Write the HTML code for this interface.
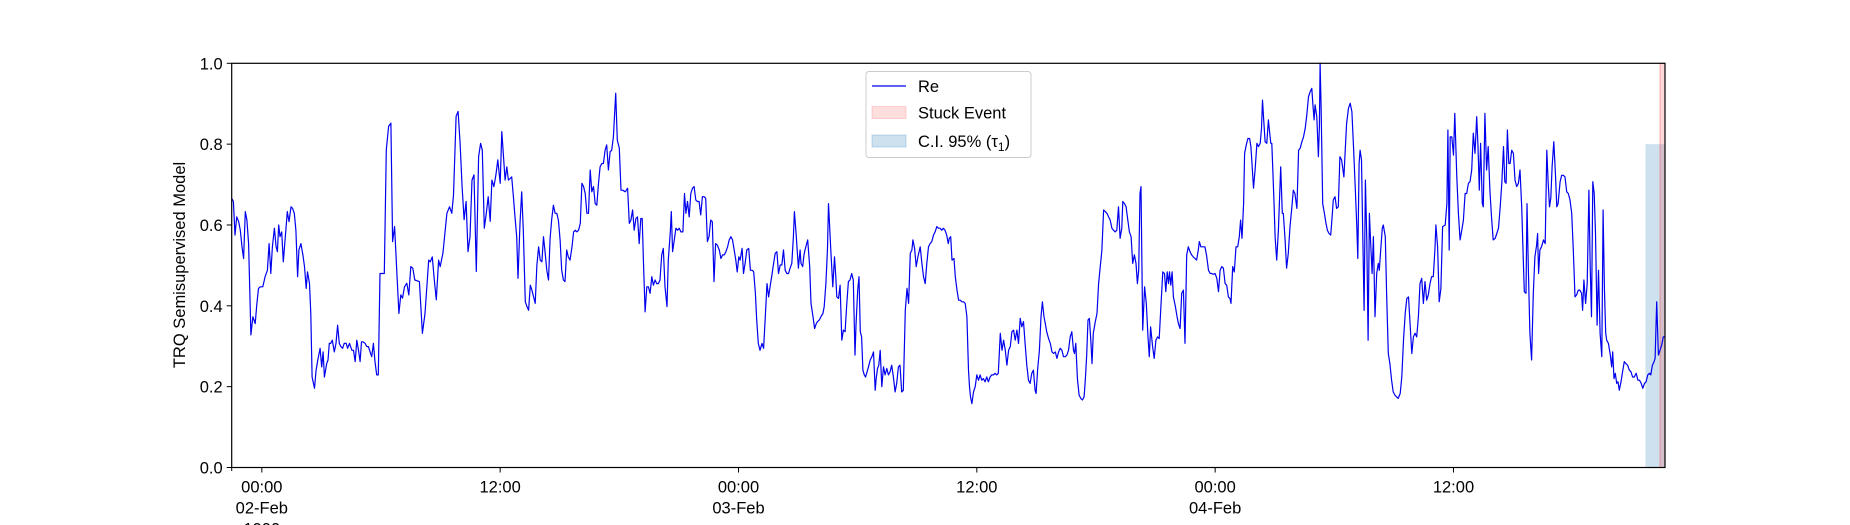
<!DOCTYPE html>
<html><head><meta charset="utf-8"><style>
html,body{margin:0;padding:0;background:#fff;}
svg{display:block;font-family:"Liberation Sans","DejaVu Sans",sans-serif;}
</style></head><body>
<svg id="chart" width="1850" height="525" viewBox="0 0 1850 525" xmlns="http://www.w3.org/2000/svg">
<rect x="0" y="0" width="1850" height="525" fill="#fff"/>
<g id="spans"></g>
<g id="series"></g>
<g id="axes"></g>
<text transform="translate(185,265) rotate(-90)" text-anchor="middle" font-size="16.5">TRQ Semisupervised Model</text>
<g>
<rect x="866" y="71.5" width="165" height="86" rx="3" fill="#fff" fill-opacity="0.8" stroke="#ccc" stroke-width="1"/>
<line x1="872" y1="86" x2="906" y2="86" stroke="#0000ee" stroke-width="1.2"/>
<text x="918" y="92" font-size="16.5">Re</text>
<rect x="872" y="106.5" width="34" height="12" fill="rgba(255,0,0,0.13)" stroke="rgba(255,0,0,0.15)"/>
<text x="918" y="118.5" font-size="16.5">Stuck Event</text>
<rect x="872" y="135" width="34" height="12" fill="rgba(31,119,180,0.22)" stroke="rgba(31,119,180,0.25)"/>
<text x="918" y="147" font-size="16.5">C.I. 95% (τ<tspan font-size="12" dy="4">1</tspan><tspan dy="-4">)</tspan></text>
</g>
</svg>
<script>
const times = [-91,-86,-81,-76,-70,-65,-60,-55,-50,-45,-40,-33,-27,-20,-15,-10,-5,3,10,17,22,27,32,38,43,47,51,55,60,65,72,77,82,88,93,98,103,108,112,118,124,129,134,138,144,148,152,159,164,169,176,181,185,189,196,200,204,208,213,219,224,229,234,239,244,249,255,259,265,272,277,282,287,292,297,301,305,312,317,322,327,332,337,342,347,352,
357,370,376,383,390,395,401,408,414,420,425,431,438,444,450,456,462,476,485,493,504,509,515,521,527,534,539,547,559,567,574,579,587,593,599,605,611,617,623,629,635,641,648,655,661,666,672,678,684,690,695,701,707,713,
720,725,730,735,740,745,750,755,760,765,770,774,780,785,790,796,801,806,811,816,821,826,831,836,841,846,851,856,861,866,871,876,881,886,891,896,901,906,911,916,921,926,931,937,942,947,952,957,962,967,972,977,982,987,992,997,1002,1007,1012,1017,1022,1027,1032,1037,1042,1047,1052,1057,1062,1069,1074,1080,1085,1090,1098,1105,1110,1115,1120,1125,1130,1135,1140,1145,1149,1153,1158,1163,1168,1173,1178,1183,1188,1193,1198,1203,1208,1213,1218,1224,1228,1234,1237,1241,1246,1251,1256,1261,1266,1272,1277,1281,1286,1291,1296,1301,1306,1311,1316,1321,1326,1331,1336,1341,1346,1351,1356,1361,1366,1371,1376,1382,1387,1392,1397,1402,1407,1412,1417,1422,1427,1432,1436,1441,1445,1451,1455,1460,1465,1471,1476,1482,1486,1491,1495,1500,1505,1511,1516,1521,1526,1531,1536,1541,1546,1551,1556,1561,1566,1571,1576,1581,1586,1591,1596,1601,1606,1609,1614,1618,1621,
1626,1629,1634,1638,1641,1646,1649,1655,1659,1665,1670,1675,1679,1684,1689,1695,1699,1704,1709,1712,1715,1719,1725,1730,1734,1737,1742,1747,1752,1757,1762,1767,1772,1777,1782,1787,1792,1795,1800,1804,1808,1812,1816,1820,1824,1830,1834,1838,1843,1848,1853,1856,1860,1864,1868,1873,1878,1883,1888,1893,1898,1903,1908,1913,1918,1923,1928,1933,1938,1944,1949,1954,1959,1964,1967,1972,1977,1982,1989,1994,1999,2004,2009,2014,2019,2024,2029,2034,2039,2044,2049,2054,2059,2064,2069,2074,2077,2081,2085,2091,2095,2100,2105,2110,2115,2120,2125,2130,2135,2138,2141,2145,2150,2155,2160,2165,2170,2175,2180,2185,2190,2195,2200,2205,2210,2215,2220,2225,2231,2236,2241,2246,2251,2256,2261,2266,2271,2276,2281,2286,2291,2296,2301,2306,2311,2316,2321,2326,2331,2336,2339,2344,2349,2354,2358,2363,2367,2371,2377,2382,2387,2392,2397,2402,2407,2412,2417,2422,2427,2432,2437,2442,2447,2452,2455,2459,2464,2469,2474,2479,2484,2488,2492,2496,2500,2505,2508,2512,2518,2523,2528,
2538,2543,2548,2553,2558,2563,2568,2573,2578,2583,2588,2593,2598,2601,2606,2611,2616,2621,2626,2631,2636,2641,2645,2649,2653,2656,2661,2667,2672,2677,2681,2685,2691,2696,2701,2706,2711,2716,2722,2727,2731,2735,2739,2742,2746,2750,2754,2760,2764,2769,2774,2779,2784,2789,2794,2799,2804,2809,2814,2819,2824,2829,2832,2837,2842,2849,2854,2860,2865,2870,2875,2880,2885,2890,2895,2900,2905,2910,2915,2920,2925,2928,2933,2938,2943,2948,2953,2957,2961,2966,2969,2974,2979,2984,2988,2992,2996,3001,3006,3011,3016,3020,3023,3026,3031,3036,3041,3044,3048,3051,3054,3058,3061,3066,3071,3078,3083,3086,3091,3096,3101,3106,3111,3116,3121,3127,3132,3137,3142,3147,3152,3157,3162,3167,3172,3175,3179,3182,3187,3192,3195,3197,3200,3205,3210,3215,3219,3224,3229,3233,3237,3242,3247,3252,3257,3262,3269,3272,3277,3283,3288,3293,3298,3303,3308,3311,3315,3318,3322,3326,3330,3334,3338,3342,3346,3350,3354,3358,3363,3368,3373,3376,3380,3385,3388,3394,3398,3403,3408,3413,3418,3423,3428,3433,3439,3444,3449,3454,3459,3464,
3474,3479,3484,3489,3494,3499,3504,3509,3514,3519,3524,3529,3534,3539,3544,3547,3552,3557,3562,3567,3575,3580,3583,3587,3590,3595,3600,3604,3610,3615,3620,3625,3630,3635,3640,3645,3650,3655,3660,3665,3670,3674,3678,3682,3687,3690,3695,3700,3705,3710,3715,3720,3726,3731,3736,3741,3746,3751,3755,3759,3763,3767,3771,3776,3781,3786,3791,3796,3801,3806,3811,3814,3819,3822,3826,3831,3836,3841,3846,3851,3854,3857,3861,3866,3872,3877,3882,3886,3890,3894,3898,3903,3908,3912,3916,3922,3927,3932,3937,3942,3947,3952,3957,3962,3967,3972,3977,3982,3987,3990,3994,3999,4004,4009,4013,4017,4021,4025,4029,4034,4038,4043,4048,4052,4056,4060,4063,4068,4073,4078,4081,4085,4089,4093,4097,4101,4106,4111,4116,4121,4126,4131,4136,4141,4146,4152,4157,4162,4167,4172,4177,4182,4187,4192,4196,4201,4206,4209,4214,4219,4224,4229,4234,4239];
const values = [0.666,0.658,0.575,0.620,0.608,0.587,0.546,0.517,0.633,0.612,0.554,0.328,0.373,0.356,0.406,0.443,0.447,0.447,0.472,0.488,0.554,0.480,0.546,0.592,0.546,0.534,0.600,0.571,0.583,0.509,0.583,0.633,0.608,0.645,0.641,0.629,0.587,0.472,0.538,0.554,0.526,0.497,0.443,0.484,0.455,0.381,0.224,0.196,0.241,0.266,0.295,0.249,0.286,0.224,0.257,0.266,0.307,0.307,0.315,0.286,0.307,0.352,0.307,0.299,0.295,0.307,0.307,0.295,0.307,0.290,0.290,0.262,0.315,0.290,0.262,0.311,0.311,0.307,0.299,0.299,0.286,0.274,0.307,0.262,0.229,0.229,
0.480,0.480,0.786,0.844,0.852,0.559,0.596,0.480,0.381,0.427,0.419,0.447,0.456,0.427,0.497,0.493,0.464,0.460,0.332,0.381,0.513,0.509,0.521,0.464,0.415,0.513,0.497,0.530,0.629,0.645,0.629,0.674,0.869,0.881,0.802,0.695,0.613,0.658,0.534,0.571,0.711,0.724,0.485,0.769,0.802,0.785,0.592,0.629,0.670,0.609,0.711,0.695,0.724,0.761,
0.703,0.831,0.769,0.711,0.744,0.711,0.715,0.719,0.670,0.620,0.571,0.468,0.604,0.682,0.587,0.410,0.398,0.389,0.451,0.439,0.422,0.406,0.501,0.546,0.513,0.509,0.571,0.530,0.488,0.464,0.567,0.616,0.649,0.629,0.629,0.612,0.563,0.488,0.464,0.460,0.538,0.521,0.513,0.546,0.583,0.587,0.583,0.587,0.604,0.703,0.695,0.678,0.629,0.629,0.736,0.682,0.695,0.653,0.649,0.703,0.744,0.752,0.752,0.785,0.798,0.736,0.781,0.785,0.818,0.926,0.810,0.790,0.686,0.686,0.682,0.691,0.604,0.612,0.637,0.587,0.616,0.620,0.554,0.616,0.616,0.505,0.385,0.447,0.447,0.431,0.472,0.451,0.464,0.455,0.455,0.464,0.526,0.542,0.447,0.398,0.513,0.583,0.633,0.534,0.563,0.592,0.587,0.592,0.583,0.583,0.678,0.629,0.658,0.620,0.678,0.691,0.695,0.662,0.658,0.658,0.625,0.670,0.670,0.666,0.559,0.571,0.612,0.608,0.460,0.554,0.550,0.538,0.517,0.526,0.526,0.534,0.546,0.563,0.571,0.563,0.538,0.513,0.484,0.521,0.513,0.542,0.480,0.505,0.538,0.542,0.488,0.488,0.484,0.431,0.365,0.307,0.290,0.307,0.295,0.373,0.455,0.422,0.451,0.476,0.505,0.530,0.534,0.480,0.501,0.501,0.538,0.488,0.480,0.480,0.493,0.505,0.571,0.633,0.579,0.530,0.493,
0.538,0.505,0.497,0.526,0.538,0.554,0.563,0.497,0.406,0.373,0.344,0.356,0.361,0.365,0.373,0.381,0.398,0.455,0.542,0.653,0.604,0.538,0.447,0.521,0.472,0.422,0.418,0.451,0.315,0.340,0.336,0.402,0.460,0.464,0.480,0.464,0.278,0.352,0.439,0.472,0.336,0.323,0.241,0.229,0.224,0.241,0.253,0.266,0.274,0.286,0.191,0.220,0.245,0.253,0.290,0.200,0.249,0.229,0.245,0.229,0.237,0.253,0.224,0.187,0.208,0.249,0.253,0.187,0.191,0.389,0.443,0.406,0.530,0.538,0.563,0.542,0.497,0.521,0.546,0.505,0.472,0.455,0.505,0.546,0.554,0.559,0.575,0.583,0.596,0.592,0.592,0.587,0.592,0.587,0.575,0.554,0.567,0.571,0.513,0.517,0.472,0.439,0.414,0.414,0.410,0.410,0.406,0.373,0.241,0.200,0.175,0.158,0.187,0.200,0.229,0.216,0.229,0.216,0.220,0.212,0.224,0.212,0.224,0.229,0.229,0.233,0.229,0.233,0.332,0.290,0.315,0.290,0.253,0.290,0.299,0.336,0.340,0.315,0.340,0.307,0.369,0.348,0.361,0.307,0.253,0.216,0.208,0.233,0.241,0.191,0.183,0.245,0.290,0.373,0.410,0.373,0.356,0.336,0.319,0.307,0.286,0.282,0.286,0.270,0.286,0.295,0.290,0.274,0.274,0.278,0.290,0.323,0.336,0.290,0.282,0.307,0.220,0.179,0.171,0.167,0.175,0.220,0.278,0.365,0.369,0.307,0.257,0.332,0.361,0.381,0.455,
0.538,0.637,0.633,0.629,0.620,0.612,0.592,0.587,0.583,0.587,0.645,0.567,0.592,0.658,0.653,0.645,0.612,0.583,0.571,0.505,0.526,0.505,0.455,0.488,0.678,0.695,0.340,0.447,0.406,0.323,0.274,0.348,0.299,0.270,0.315,0.323,0.319,0.398,0.484,0.480,0.435,0.484,0.455,0.484,0.451,0.484,0.422,0.398,0.377,0.356,0.344,0.431,0.439,0.307,0.526,0.546,0.534,0.526,0.521,0.517,0.513,0.538,0.559,0.546,0.546,0.546,0.526,0.488,0.480,0.480,0.478,0.480,0.468,0.435,0.488,0.497,0.493,0.455,0.451,0.422,0.418,0.406,0.497,0.484,0.546,0.546,0.571,0.612,0.567,0.653,0.777,0.798,0.814,0.814,0.794,0.744,0.691,0.740,0.802,0.794,0.802,0.839,0.909,0.868,0.806,0.802,0.860,0.835,0.802,0.802,0.744,0.649,0.571,0.513,0.587,0.744,0.629,0.629,0.567,0.493,0.530,0.596,0.637,0.686,0.678,0.641,0.785,0.790,0.806,0.818,0.839,0.872,0.917,0.930,0.938,0.901,0.860,0.897,0.868,0.769,0.843,1.0,0.893,0.653,0.629,0.604,0.587,0.579,0.575,0.616,0.662,0.670,0.641,0.645,0.769,0.761,0.719,0.769,0.851,0.889,0.901,0.880,0.794,0.695,0.596,0.517,0.752,0.785,0.761,0.571,0.389,0.711,0.563,0.315,0.629,0.554,0.480,0.571,0.373,0.480,0.505,0.488,0.538,0.592,0.600,0.571,0.431,0.282,0.257,0.216,0.187,0.179,0.175,0.171,0.183,0.224,0.315,0.381,0.418,0.422,
0.282,0.323,0.332,0.323,0.373,0.455,0.468,0.406,0.460,0.414,0.427,0.455,0.472,0.472,0.538,0.600,0.546,0.410,0.443,0.596,0.600,0.653,0.835,0.538,0.818,0.818,0.773,0.876,0.719,0.629,0.563,0.587,0.612,0.678,0.678,0.703,0.707,0.736,0.827,0.777,0.868,0.794,0.686,0.802,0.653,0.645,0.876,0.736,0.794,0.686,0.620,0.563,0.567,0.579,0.592,0.645,0.703,0.794,0.707,0.703,0.835,0.752,0.752,0.785,0.777,0.711,0.695,0.703,0.736,0.645,0.513,0.435,0.431,0.653,0.497,0.332,0.266,0.431,0.521,0.550,0.579,0.480,0.538,0.546,0.563,0.554,0.785,0.703,0.645,0.666,0.744,0.806,0.728,0.645,0.653,0.707,0.723,0.723,0.719,0.682,0.678,0.662,0.629,0.538,0.422,0.427,0.439,0.439,0.431,0.389,0.464,0.406,0.455,0.686,0.497,0.373,0.707,0.678,0.579,0.352,0.488,0.332,0.274,0.637,0.443,0.332,0.315,0.307,0.282,0.249,0.286,0.220,0.233,0.208,0.212,0.191,0.212,0.237,0.262,0.257,0.253,0.241,0.237,0.224,0.224,0.233,0.216,0.216,0.208,0.196,0.208,0.212,0.229,0.233,0.229,0.253,0.262,0.270,0.410,0.278,0.290,0.303,0.323,0.323];
const yTicks = [0.0,0.2,0.4,0.6,0.8,1.0];
const xTickTimes = [0,720,1440,2160,2880,3600];
const xTickLabels = [["00:00","02-Feb","1900"],["12:00"],["00:00","03-Feb"],["12:00"],["00:00","04-Feb"],["12:00"]];
const ciSpan = [4180,4239];
const ciHeight = 0.8;
const stuckSpan = [4224,4239];
const xDomain = [-91,4239];

const NS="http://www.w3.org/2000/svg";
const L=231.7,R=1665,T=63.3,B=467.5;
function xs(t){return L+(t-xDomain[0])/(xDomain[1]-xDomain[0])*(R-L);}
function ys(v){return B-v*(B-T);}
function mk(tag,attrs,parent){const e=document.createElementNS(NS,tag);for(const k in attrs)e.setAttribute(k,attrs[k]);parent.appendChild(e);return e;}
const spans=document.getElementById('spans');
const ci=mk('rect',{x:xs(ciSpan[0]),y:ys(ciHeight),width:xs(ciSpan[1])-xs(ciSpan[0]),height:ys(0)-ys(ciHeight),fill:'rgba(31,119,180,0.22)'},spans);


const st=mk('rect',{x:xs(stuckSpan[0]),y:ys(1),width:xs(stuckSpan[1])-xs(stuckSpan[0]),height:ys(0)-ys(1),fill:'rgba(255,0,0,0.15)',stroke:'rgba(255,0,0,0.3)','stroke-width':1},spans);


const pts=times.map((t,i)=>xs(t).toFixed(1)+','+ys(Math.min(values[i],1)).toFixed(1)).join(' ');
const line=mk('polyline',{points:pts,fill:'none',stroke:'#0000ee','stroke-width':1.2,'stroke-linejoin':'round'},document.getElementById('series'));


const ax=document.getElementById('axes');
const frame=mk('rect',{x:L,y:T,width:R-L,height:B-T,fill:'none',stroke:'#000','stroke-width':1.2},ax);


yTicks.forEach(v=>{
  mk('line',{x1:L-5,x2:L,y1:ys(v),y2:ys(v),stroke:'#000','stroke-width':1},ax);
  const tx=mk('text',{x:L-9,y:ys(v)+6,'text-anchor':'end','font-size':16.5},ax);
  tx.textContent=v.toFixed(1);
  
  
});
mk('line',{x1:L,x2:L,y1:B,y2:B+3.5,stroke:'#000','stroke-width':1},ax);
xTickTimes.forEach((t,i)=>{
  mk('line',{x1:xs(t),x2:xs(t),y1:B,y2:B+5,stroke:'#000','stroke-width':1},ax);
  xTickLabels[i].forEach((s,j)=>{
    const tx=mk('text',{x:xs(t),y:B+25+j*21,'text-anchor':'middle','font-size':16.5},ax);
    tx.textContent=s;
    
    
  });
});
</script>
</body></html>
